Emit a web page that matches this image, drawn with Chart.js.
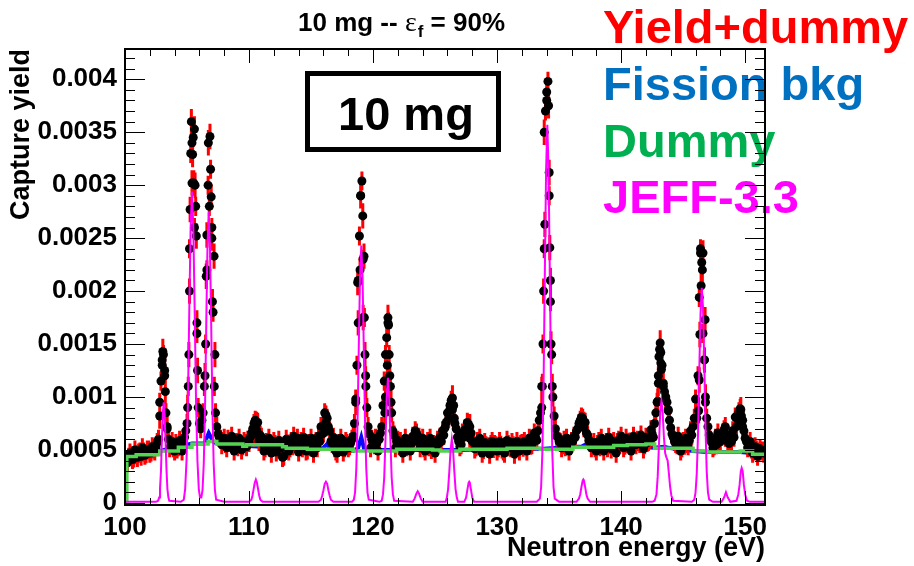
<!DOCTYPE html>
<html><head><meta charset="utf-8">
<script src="https://cdn.jsdelivr.net/npm/chart.js@4.4.0/dist/chart.umd.min.js"></script>
<style>html,body{margin:0;padding:0;background:#fff;}#wrap{width:914px;height:566px;}</style>
</head><body><div id="wrap"><canvas id="c" width="914" height="566"></canvas></div>
<script>
const FONT = "'Liberation Sans', Arial, Helvetica, sans-serif";

// Yield+dummy, bins A: centres 100.1, 100.3, ... (0.2 eV apart)
const gridStartA = 100.1, gridStep = 0.2;
const gridYieldA = [
 0.00041,0.00043,0.000445,0.000425,0.000455,0.00047,0.00044,0.00048,0.000465,0.0005,
 0.00048,0.00051,0.00053,0.0006,0.00115,0.0014,0.00085,0.0006,0.00054,0.00052,
 0.00056,0.00053,0.00055,0.00058,0.00068,0.0011,0.0033,0.00345,0.0028,0.0009,
 0.0007,0.00085,0.0015,0.003,0.00315,0.0018,0.00085,0.00065,0.0006,0.00058,
 0.00056,0.0006,0.00057,0.000545,0.00056,0.00053,0.000555,0.00054,0.00056,0.00059,
 0.00062,0.0007,0.00078,0.00076,0.00064,0.00056,0.00052,0.000545,0.00056,0.00053,
 0.00055,0.00051,0.00054,0.00043,0.00053,0.000555,0.00052,0.00054,0.00056,0.00061,
 0.00056,0.00052,0.000545,0.0005,0.00053,0.00055,0.00056,0.00052,0.00058,0.00065,
 0.00085,0.0008,0.00068,0.00056,0.00052,0.00047,0.00055,0.00054,0.00052,0.00056,
 0.00054,0.0006,0.00075,0.0013,0.00252,0.00304,0.00175,0.0009,0.00065,0.0006,
 0.00055,0.00056,0.0006,0.00072,0.00115,0.00156,0.0014,0.00085,0.00064,0.00058,
 0.00054,0.00052,0.00055,0.00053,0.000555,0.00056,0.0006,0.00066,0.00062,0.00056,
 0.00052,0.000545,0.00053,0.000505,0.00055,0.00054,0.000565,0.00058,0.00064,0.00076,
 0.0008,0.00097,0.00092,0.0007,0.00058,0.00055,0.00062,0.0007,0.00074,0.00066,
 0.00057,0.00053,0.000545,0.00052,0.000505,0.00054,0.00053,0.00055,0.000515,0.00054,
 0.00052,0.000545,0.00049,0.00053,0.00055,0.00052,0.00054,0.00051,0.000535,0.00055,
 0.000525,0.00054,0.00056,0.000545,0.00058,0.00062,0.00068,0.00085,0.0015,0.0037,
 0.00398,0.0019,0.001,0.0007,0.00062,0.00057,0.00055,0.00053,0.00056,0.00054,
 0.00058,0.00062,0.0007,0.00078,0.0008,0.00076,0.00064,0.00057,0.00054,0.00052,
 0.00055,0.00053,0.00056,0.000545,0.00052,0.00055,0.000565,0.00054,0.00057,0.000555,
 0.00058,0.000545,0.00056,0.000575,0.00054,0.00056,0.00059,0.00056,0.000575,0.00055,
 0.00057,0.0006,0.00065,0.00075,0.00095,0.00145,0.0013,0.00105,0.00095,0.00078,
 0.00065,0.00058,0.00055,0.00054,0.00052,0.000545,0.00056,0.00059,0.00064,0.0008,
 0.0008,0.00194,0.00227,0.00135,0.0008,0.00064,0.00057,0.00054,0.00055,0.00058,
 0.00063,0.00069,0.00064,0.00056,0.00058,0.00062,0.00072,0.00086,0.00082,0.00068,
 0.00058,0.00053,0.00051,0.00049,0.0005,0.00048,0.00049,0.00047
];
// Yield+dummy, bins B: centres 100.2, 100.4, ... (0.2 eV apart)
const gridStartB = 100.2;
const gridYieldB = [
 0.00038,0.00047,0.00041,0.0005,0.00043,0.00048,0.00052,0.00045,0.0005,0.00047,
 0.00053,0.00049,0.00057,0.00095,0.00135,0.0012,0.00072,0.00052,0.00058,0.00049,
 0.00051,0.00059,0.00049,0.00062,0.00075,0.0024,0.0034,0.0026,0.0016,0.00075,
 0.00078,0.0011,0.0022,0.0028,0.0026,0.0011,0.00072,0.00062,0.00055,0.00061,
 0.00052,0.00058,0.00063,0.00049,0.00057,0.00061,0.0005,0.00058,0.00053,0.00057,
 0.00066,0.00075,0.00069,0.00058,0.00062,0.00049,0.00057,0.00061,0.00047,0.00058,
 0.00048,0.00059,0.00052,0.00044,0.0006,0.00049,0.00058,0.00063,0.00054,0.00048,
 0.00058,0.00062,0.00049,0.00056,0.00061,0.00047,0.00058,0.00063,0.00072,0.00066,
 0.00083,0.00072,0.00058,0.00062,0.00049,0.00056,0.00061,0.00048,0.00058,0.00052,
 0.00057,0.00063,0.00098,0.0021,0.0029,0.0023,0.0012,0.00072,0.00052,0.00057,
 0.00061,0.00049,0.00066,0.00092,0.0014,0.0017,0.0011,0.00068,0.00052,0.00059,
 0.00058,0.00047,0.00061,0.00055,0.00049,0.00063,0.00068,0.00058,0.00052,0.00061,
 0.00049,0.00058,0.00061,0.00052,0.00047,0.00059,0.00062,0.00068,0.00071,0.00085,
 0.00092,0.00088,0.00075,0.00062,0.00053,0.00066,0.00069,0.00076,0.00061,0.00058,
 0.00051,0.00058,0.00061,0.00047,0.00057,0.00052,0.00046,0.00058,0.00055,0.00049,
 0.00058,0.00051,0.00047,0.00059,0.00053,0.00057,0.00046,0.00058,0.00049,0.00056,
 0.00058,0.00049,0.00061,0.00055,0.00066,0.00059,0.00078,0.0011,0.0024,0.0038,
 0.0029,0.0014,0.00082,0.00063,0.00058,0.00052,0.00059,0.00061,0.00049,0.00058,
 0.00063,0.00068,0.00075,0.00081,0.00071,0.00066,0.00059,0.00052,0.00057,0.00049,
 0.00058,0.00061,0.00049,0.00057,0.00062,0.00051,0.00058,0.00047,0.00059,0.00063,
 0.00052,0.00061,0.00057,0.00049,0.00063,0.00055,0.00058,0.00064,0.00051,0.00062,
 0.00058,0.00069,0.00062,0.00085,0.0012,0.00142,0.0011,0.00098,0.00088,0.00071,
 0.00062,0.00056,0.00063,0.00049,0.00058,0.00061,0.00054,0.00068,0.00072,0.00098,
 0.0012,0.0024,0.0016,0.00095,0.00072,0.00059,0.00052,0.00061,0.00066,0.00058,
 0.00066,0.00072,0.00058,0.00063,0.00068,0.00081,0.00079,0.00089,0.00072,0.00061,
 0.00052,0.00058,0.00047,0.00053,0.00044,0.00051,0.00049
];
// Yield+dummy: extra finely binned points on the resonances
const peakE = [
 102.8,103.0,103.05,103.2,103.25,103.4,
 105.05,105.15,105.2,105.25,105.35,105.4,105.45,105.55,105.6,105.65,105.75,105.8,105.85,
 106.45,106.55,106.6,106.72,106.85,106.95,107.0,107.05,107.18,107.25,
 110.4,110.6,116.0,116.2,
 118.6,118.76,118.8,118.95,119.0,119.17,119.2,119.27,119.35,119.42,
 120.95,121.0,121.15,121.2,121.25,121.35,121.45,
 126.2,126.4,126.55,127.8,
 133.6,133.65,133.75,133.8,133.85,134.0,134.15,134.2,134.25,134.3,134.35,134.45,
 137.0,
 142.95,143.0,143.05,143.15,143.2,143.25,143.4,143.6,143.8,
 146.25,146.3,146.35,146.4,146.45,146.55,146.6,146.72,146.77,146.8,
 148.4,149.6,149.65,149.8
];
const peakY = [
 0.00082,0.0013,0.00143,0.00125,0.00105,0.0007,
 0.0009,0.0014,0.002,0.00277,0.0036,0.00302,0.00329,0.00302,0.00353,0.003,0.00252,0.0017,0.00125,
 0.0012,0.00214,0.00253,0.0034,0.00346,0.00289,0.0025,0.0019,0.00233,0.0014,
 0.00065,0.00074,0.00072,0.00076,
 0.00095,0.00208,0.0017,0.0022,0.0029,0.00271,0.00175,0.00233,0.0014,0.0011,
 0.00085,0.001,0.0013,0.00175,0.00168,0.0012,0.00095,
 0.00088,0.00099,0.0008,0.00072,
 0.0009,0.0011,0.002,0.0035,0.00263,0.00388,0.00375,0.00312,0.00241,0.0021,0.0015,0.0011,
 0.00074,
 0.00096,0.00113,0.00138,0.00151,0.00132,0.00126,0.00113,0.001,0.00087,
 0.00087,0.00116,0.00159,0.00236,0.00205,0.0022,0.00236,0.00135,0.00173,0.001,
 0.00065,0.00085,0.00088,0.00078
];
const gridErr = 0.00009, peakErr = 0.00012;

// Fission background
const fisE = [100.0,101.0,102.8,104.3,105.4,106.4,106.75,107.1,107.4,109.5,112.7,114.7,115.9,116.25,116.6,118.4,118.8,119.05,119.3,121.9,124.8,127.0,130.8,131.3,131.8,133.5,136.1,136.8,137.1,137.5,139.4,142.7,143.5,143.8,145.8,146.9,149.6,151.6];
const fisY = [0.00044,0.00046,0.00049,0.00053,0.00056,0.00056,0.00066,0.00058,0.00056,0.00054,0.00052,0.00051,0.00051,0.00055,0.00051,0.00049,0.00052,0.00062,0.0005,0.0005,0.0005,0.0005,0.00051,0.00054,0.00051,0.00051,0.00053,0.00053,0.00055,0.00053,0.00054,0.00052,0.00053,0.00052,0.00049,0.00048,0.00048,0.00046];

// Dummy: step histogram (bin edges and contents)
const dummyEdges = [100.15,100.9,102.8,104.3,105.4,106.7,107.4,109.5,109.8,112.7,113.0,114.7,118.4,121.9,124.8,125.4,127.0,130.8,133.5,136.1,139.4,140.5,142.0,142.7,145.8,146.9,149.6,150.6,151.6];
const dummyVals = [0.000438,0.000454,0.00049,0.000526,0.000555,0.00058,0.000555,0.000535,0.000548,0.00053,0.000517,0.000507,0.00049,0.000507,0.0005,0.00049,0.000507,0.000517,0.000507,0.000526,0.000542,0.000548,0.000555,0.000517,0.00049,0.00048,0.00049,0.00046];

// JEFF-3.3 evaluated yield
const jeffE = [
 100.0,102.5,
 102.67,102.75,102.82,102.9,102.97,103.05,103.12,103.19,103.27,103.35,103.42,103.5,103.57,
 104.5,104.74,104.85,104.96,105.07,105.18,105.29,105.4,105.51,105.62,105.73,105.84,105.95,106.05,
 106.15,106.25,106.35,106.45,106.55,106.65,106.75,106.85,106.95,107.05,107.15,107.25,107.35,108.0,
 110.0,110.19,110.28,110.37,110.46,110.55,110.64,110.73,110.82,110.91,111.1,
 115.6,115.8,115.9,116.0,116.1,116.2,116.3,116.4,116.5,116.6,116.8,
 118.3,118.45,118.55,118.65,118.75,118.85,118.95,119.05,119.15,119.25,119.35,119.45,119.55,119.65,
 120.5,120.7,120.8,120.9,121.0,121.1,121.2,121.3,121.4,121.5,121.6,121.7,
 123.2,123.35,123.5,123.6,123.7,123.85,124.0,
 125.85,125.95,126.05,126.15,126.25,126.35,126.45,126.55,126.65,126.75,126.85,
 127.35,127.5,127.6,127.7,127.75,127.8,127.9,128.0,128.15,
 133.2,133.45,133.55,133.65,133.75,133.85,133.95,134.05,134.15,134.25,134.35,134.45,134.55,134.65,135.0,
 136.4,136.6,136.7,136.8,136.9,136.95,137.0,137.1,137.2,137.3,137.5,
 142.5,142.7,142.85,142.95,143.05,143.15,143.25,143.35,143.45,143.55,143.65,143.75,143.85,143.95,144.05,144.2,
 145.7,145.9,146.0,146.1,146.2,146.3,146.4,146.5,146.6,146.7,146.8,146.9,147.0,147.1,147.4,
 148.1,148.3,148.45,148.6,148.8,
 149.3,149.45,149.55,149.65,149.72,149.8,149.9,150.0,150.15,150.4,151.6
];
const jeffY = [
 0.00001,0.00001,
 0.00002,0.00005,0.00013,0.0003,0.00058,0.00084,0.00095,0.00084,0.00058,0.0003,0.00013,0.00005,0.00002,
 0.00001,0.00003,0.00013,0.0004,0.00094,0.00179,0.00259,0.00294,0.00259,0.00179,0.00094,0.0004,0.00013,0.00005,
 0.00005,0.00012,0.00037,0.00088,0.00168,0.00242,0.00275,0.00242,0.00168,0.00088,0.00037,0.00012,0.00003,0.00001,
 0.00001,0.00003,0.00007,0.00013,0.00019,0.00022,0.00019,0.00013,0.00007,0.00003,0.00001,
 0.00001,0.00003,0.00007,0.00012,0.00018,0.0002,0.00018,0.00012,0.00007,0.00003,0.00001,
 0.00001,0.00003,0.0001,0.00033,0.00078,0.00148,0.00214,0.00243,0.00214,0.00148,0.00078,0.00033,0.0001,0.00003,
 0.00001,0.00002,0.00008,0.00024,0.00059,0.00099,0.00118,0.00099,0.00059,0.00024,0.00008,0.00002,
 0.00001,0.00004,0.00009,0.00011,0.00009,0.00004,0.00001,
 0.00001,0.00005,0.00013,0.0003,0.0005,0.0006,0.0005,0.0003,0.00013,0.00005,0.00001,
 0.00001,0.00005,0.00012,0.00019,0.0002,0.00019,0.00012,0.00005,0.00001,
 0.00001,0.00004,0.00015,0.00048,0.00115,0.00217,0.00314,0.00357,0.00314,0.00217,0.00115,0.00048,0.00015,0.00004,0.00001,
 0.00001,0.00004,0.00008,0.00015,0.00021,0.00022,0.00021,0.00015,0.00008,0.00004,0.00001,
 0.00001,0.00002,0.00008,0.00025,0.00055,0.00085,0.00096,0.00085,0.00062,0.00047,0.00043,0.0004,0.00028,0.00015,0.00007,0.00002,
 0.00001,0.00003,0.0001,0.00028,0.00065,0.00124,0.00178,0.00203,0.00185,0.00135,0.00072,0.0003,0.0001,0.00003,0.00001,
 0.00001,0.00005,0.0001,0.00005,0.00001,
 0.00002,0.00008,0.00017,0.0003,0.00033,0.0003,0.00017,0.00008,0.00002,0.00001,0.00001
];

// Axes
const xMin = 100, xMax = 151.6, yMin = -0.00002, yMax = 0.004286;
const xTicks = [100,110,120,130,140,150];
const xTickLabels = ['100','110','120','130','140','150'];
const yTicks = [0,0.0005,0.001,0.0015,0.002,0.0025,0.003,0.0035,0.004];
const yTickLabels = ['0','0.0005','0.001','0.0015','0.002','0.0025','0.003','0.0035','0.004'];
const xMinorStep = 2, yMinorStep = 0.0001;

const legendLabels = ['Yield+dummy','Fission bkg','Dummy','JEFF-3.3'];
const legendColors = ['#ff0000','#0070c0','#00b050','#ff00ff'];

// ---- build datasets from the arrays ----
const yieldPts = gridYieldA.map((v,i)=>({x: +(gridStartA + i*gridStep).toFixed(2), y: v, e: gridErr}))
  .concat(gridYieldB.map((v,i)=>({x: +(gridStartB + i*gridStep).toFixed(2), y: v, e: gridErr})))
  .concat(peakE.map((x,i)=>({x, y: peakY[i], e: peakErr})));
const fisPts = fisE.map((x,i)=>({x, y: fisY[i]}));
const dummyPts = [{x: dummyEdges[0], y: 0}].concat(dummyVals.map((v,i)=>({x: dummyEdges[i], y: v})))
  .concat([{x: dummyEdges[dummyEdges.length-1], y: dummyVals[dummyVals.length-1]}]);
const jeffPts = jeffE.map((x,i)=>({x, y: jeffY[i]}));

const errPlugin = {
  id: 'errbars',
  beforeDatasetDraw(chart, args) {
    const ds = chart.data.datasets[args.index];
    if (!ds.withErrors) return;
    const {ctx, chartArea: a} = chart; const xs = chart.scales.x, ys = chart.scales.y;
    ctx.save();
    ctx.beginPath(); ctx.rect(a.left, a.top, a.right - a.left, a.bottom - a.top); ctx.clip();
    ctx.strokeStyle = '#ff0000'; ctx.lineWidth = 3;
    ctx.beginPath();
    ds.data.forEach(p => {
      const px = xs.getPixelForValue(p.x);
      ctx.moveTo(px, ys.getPixelForValue(p.y - p.e));
      ctx.lineTo(px, ys.getPixelForValue(p.y + p.e));
    });
    ctx.stroke();
    ctx.restore();
  }
};

const decorPlugin = {
  id: 'decor',
  afterDatasetsDraw(chart) {
    const ctx = chart.ctx;
    ctx.save();
    ctx.font = 'bold 47px ' + FONT;
    ctx.textAlign = 'left'; ctx.textBaseline = 'alphabetic';
    const base = [43, 100, 157, 213];
    legendLabels.forEach((t,i)=>{ ctx.fillStyle = legendColors[i]; ctx.fillText(t, 603, base[i]); });
    ctx.restore();
  },
  afterDraw(chart) {
    const ctx = chart.ctx, a = chart.chartArea, xs = chart.scales.x, ys = chart.scales.y;
    ctx.save();
    ctx.strokeStyle = '#000'; ctx.lineWidth = 1;
    ctx.beginPath();
    for (let v = xMin; v <= xMax + 1e-9; v += xMinorStep) {
      const px = Math.round(xs.getPixelForValue(v)) + 0.5;
      const major = xTicks.some(t => Math.abs(t - v) < 1e-6);
      const L = major ? 14 : 7;
      ctx.moveTo(px, a.bottom); ctx.lineTo(px, a.bottom - L);
      ctx.moveTo(px, a.top); ctx.lineTo(px, a.top + L);
    }
    for (let k = 0; k * yMinorStep <= yMax + 1e-12; k++) {
      const v = k * yMinorStep;
      const py = Math.round(ys.getPixelForValue(v)) + 0.5;
      const major = yTicks.some(t => Math.abs(t - v) < 1e-9);
      const L = major ? 20 : 10;
      ctx.moveTo(a.left, py); ctx.lineTo(a.left + L, py);
      ctx.moveTo(a.right, py); ctx.lineTo(a.right - L, py);
    }
    ctx.stroke();
    ctx.lineWidth = 2;
    ctx.strokeRect(a.left, a.top, a.right - a.left, a.bottom - a.top);

    // "10 mg" box
    ctx.lineWidth = 5;
    ctx.strokeRect(307.5, 73.5, 191, 76);
    ctx.fillStyle = '#000';
    ctx.font = 'bold 47px ' + FONT; ctx.textBaseline = 'alphabetic'; ctx.textAlign = 'left';
    ctx.fillText('10 mg', 338, 130);

    // title: 10 mg -- ε_f = 90%
    let x = 298; const by = 31;
    ctx.font = 'bold 26px ' + FONT;
    ctx.fillText('10 mg -- ', x, by); x += ctx.measureText('10 mg -- ').width;
    ctx.font = '28px "Liberation Serif", "DejaVu Serif", serif';
    ctx.fillText('\u03b5', x, by); x += ctx.measureText('\u03b5').width + 1;
    ctx.font = 'bold 17px ' + FONT;
    ctx.fillText('f', x, by + 6); x += ctx.measureText('f').width;
    ctx.font = 'bold 26px ' + FONT;
    ctx.fillText(' = 90%', x, by);
    ctx.restore();
  }
};

new Chart(document.getElementById('c'), {
  type: 'scatter',
  data: { datasets: [
    { label: 'JEFF-3.3', data: jeffPts, showLine: true, borderColor: '#ff00ff', borderWidth: 2, pointRadius: 0, order: 0 },
    { label: 'Dummy', data: dummyPts, showLine: true, stepped: true, borderColor: '#52d452', borderWidth: 3.5, pointRadius: 0, order: 1 },
    { label: 'Yield+dummy', data: yieldPts, withErrors: true, showLine: false, pointRadius: 4.5, pointBackgroundColor: '#000', pointBorderWidth: 0, order: 2 },
    { label: 'Fission bkg', data: fisPts, showLine: true, borderColor: '#0a0aff', borderWidth: 4, pointRadius: 0, order: 3 }
  ]},
  options: {
    responsive: false, animation: false, devicePixelRatio: 1, events: [],
    layout: { padding: { left: 0, top: 49, right: 149, bottom: 0 } },
    plugins: { legend: { display: false }, tooltip: { enabled: false }, title: { display: false } },
    scales: {
      x: {
        type: 'linear', min: xMin, max: xMax,
        grid: { display: false, drawTicks: false }, border: { display: false },
        afterBuildTicks: s => { s.ticks = xTicks.map(v => ({ value: v })); },
        afterFit: s => { s.height = 61; },
        ticks: { font: { family: FONT, size: 26, weight: 'bold' }, color: '#000', padding: 7, maxRotation: 0, autoSkip: false,
          callback: v => { const i = xTicks.findIndex(t => Math.abs(t - v) < 1e-6); return i >= 0 ? xTickLabels[i] : ''; } },
        title: { display: true, text: 'Neutron energy (eV)', align: 'end', color: '#000', font: { family: FONT, size: 27, weight: 'bold' }, padding: { top: 0, bottom: 1 } }
      },
      y: {
        type: 'linear', min: yMin, max: yMax,
        grid: { display: false, drawTicks: false }, border: { display: false },
        afterBuildTicks: s => { s.ticks = yTicks.map(v => ({ value: v })); },
        afterFit: s => { s.width = 125; },
        ticks: { font: { family: FONT, size: 26, weight: 'bold' }, color: '#000', padding: 8, autoSkip: false,
          callback: v => { const i = yTicks.findIndex(t => Math.abs(t - v) < 1e-9); return i >= 0 ? yTickLabels[i] : ''; } },
        title: { display: true, text: 'Capture yield', align: 'end', color: '#000', font: { family: FONT, size: 27, weight: 'bold' }, padding: { top: 5, bottom: 0 } }
      }
    }
  },
  plugins: [errPlugin, decorPlugin]
});
</script></body></html>
